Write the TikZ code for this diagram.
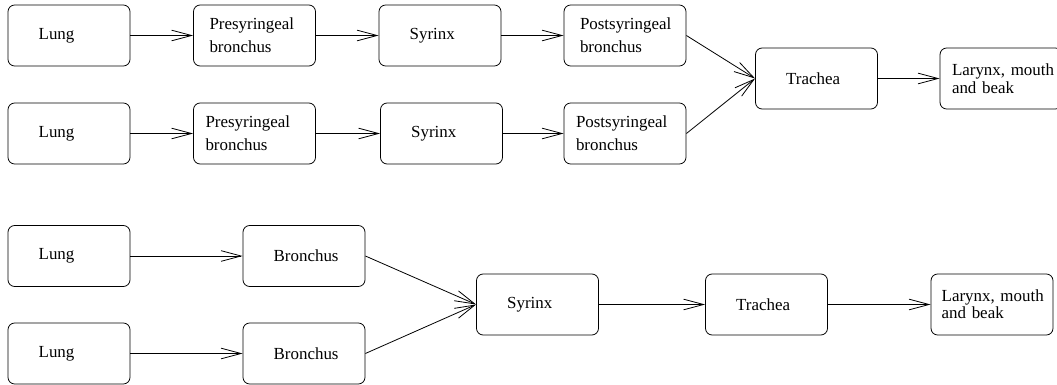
\documentclass[tikz,border=0pt]{standalone}
\usepackage{fontspec}
\setmainfont{Liberation Serif}
\usetikzlibrary{arrows.meta}
\hyphenpenalty=10000
\tikzset{
  organ/.style={draw, line width=0.6pt, rounded corners=5pt, align=left, minimum height=45.75pt, inner xsep=23pt, text width=45.5pt, font=\fontsize{12.7}{17}\selectfont},
  organtwo/.style={organ, inner xsep=12pt, text width=67.5pt},
  flow/.style={line width=0.6pt, -{Straight Barb[length=15pt,width=8pt]}}
}

\begin{document}
\begin{tikzpicture}[x=0.75pt,y=-0.75pt]
\useasboundingbox (0,0) rectangle (1057,385);
\clip (0,0) rectangle (1057,385);
\node[organ] (lung1) at (69,35.5) {Lung};
\node[organtwo] (pre1) at (254.5,35.5) {Presyringeal\\bronchus};
\node[organ] (syr1) at (440,35.5) {Syrinx};
\node[organtwo] (post1) at (625,35.5) {Postsyringeal\\bronchus};
\node[organ] (lung2) at (69,133.5) {Lung};
\node[organtwo, inner xsep=9pt, text width=73.5pt] (pre2) at (254.5,133.5) {Presyringeal\\bronchus};
\node[organ] (syr2) at (441.5,133.5) {Syrinx};
\node[organtwo, inner xsep=9pt, text width=73.5pt] (post2) at (625,133.5) {Postsyringeal\\bronchus};
\node[organ] (trach1) at (816.5,78.5) {Trachea};
\node[organtwo, inner xsep=9pt, text width=73.5pt, font=\fontsize{12.7}{13.5}\selectfont] (larynx1) at (1001,78.5) {\mbox{Larynx, mouth}\\and beak};
\draw[flow] (lung1) -- (pre1);
\draw[flow] (pre1) -- (syr1);
\draw[flow] (syr1) -- (post1);
\draw[flow] (lung2) -- (pre2);
\draw[flow] (pre2) -- (syr2);
\draw[flow] (syr2) -- (post2);
\draw[flow] (post1.east) -- (trach1.west);
\draw[flow] (post2.east) -- (trach1.west);
\draw[flow] (trach1) -- (larynx1);

\node[organ] (lung3) at (69,256) {Lung};
\node[organ] (lung4) at (69,353.5) {Lung};
\node[organ] (bron3) at (304,256) {Bronchus};
\node[organ] (bron4) at (304,353.5) {Bronchus};
\node[organ] (syr3) at (537.5,304.5) {Syrinx};
\node[organ] (trach3) at (766.5,304.5) {Trachea};
\node[organtwo, inner xsep=8pt, text width=75.5pt, font=\fontsize{12.7}{10}\selectfont] (larynx3) at (992,304.5) {\mbox{Larynx, mouth}\\and beak};
\draw[flow] (lung3) -- (bron3);
\draw[flow] (lung4) -- (bron4);
\draw[flow] (bron3.east) -- (syr3.west);
\draw[flow] (bron4.east) -- (syr3.west);
\draw[flow] (syr3) -- (trach3);
\draw[flow] (trach3) -- (larynx3);
\end{tikzpicture}
\end{document}
